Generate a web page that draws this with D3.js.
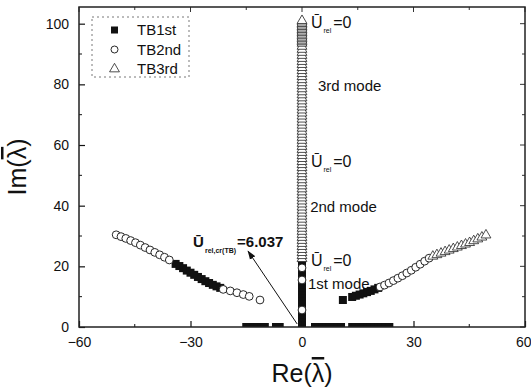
<!DOCTYPE html>
<html>
<head>
<meta charset="utf-8">
<script src="https://cdn.jsdelivr.net/npm/d3@7/dist/d3.min.js"></script>
<style>
  body { margin: 0; background: #fff; }
  svg { display: block; }
</style>
</head>
<body>
<div id="chart"></div>
<script>
// axis ticks
const xTicks = [-60, -30, 0, 30, 60];
const xMinor = [-45, -15, 15, 45];
const yTicks = [0, 20, 40, 60, 80, 100];
const yMinor = [10, 30, 50, 70, 90];

// TB1st (filled squares) [Re, Im]
const tb1st = [
  [0,0],[0,1],[0,2],[0,3],[0,4],[0,5],[0,6],[0,7],[0,8],[0,9],[0,10],[0,11],
  [0,12],[0,13],[0,14],[0,15],[0,16],[0,17],[0,18],[0,19],[0,20],[0,21],
  [-15,0],[-14,0],[-13,0],[-12,0],[-11,0],[-10,0],[-7,0],[-6,0],
  [3.5,0],[4.5,0],[5.5,0],[6.5,0],[7.5,0],[8.5,0],[9.5,0],[10.5,0],
  [13.5,0],[14.5,0],[15.5,0],[16.5,0],[17.5,0],[18.5,0],[19.5,0],[20.5,0],[21.5,0],[22.5,0],[23.5,0],
  [-34,20.8],[-33,20.1],[-32,19.4],[-31,18.6],[-30,17.9],[-29,17.2],[-28,16.5],
  [-27,15.8],[-26,15.1],[-25,14.5],[-24,13.9],[-23,13.4],[-22,12.9],
  [11,8.9],[13.5,9.9],[14.5,10.3],[15.5,10.7],[16.5,11.1],[17.5,11.5],[18.5,11.9],[19.5,12.4],[20.5,12.9]
];

// TB2nd (open circles) [Re, Im]
const tb2nd = [
  [-50,30.4],[-48.7,29.8],[-47.4,29.2],[-46.1,28.5],[-44.8,27.8],[-43.5,27.0],
  [-42.2,26.2],[-40.9,25.4],[-39.6,24.6],[-38.3,23.8],[-37,23.0],[-35.7,22.1],
  [-21.2,12.4],[-19.3,11.9],[-17.5,11.3],[-15.8,10.7],[-14.2,10.1],[-11.3,8.9],
  [0,5.6],[0,15.5],[0,19.5],
  [21,13.2],[22.2,13.8],[23.4,14.5],[24.6,15.3],[25.8,16.1],[27,16.9],
  [28.2,17.8],[29.4,18.7],[30.6,19.7],[31.8,20.7],[33,21.7],[34.2,22.7]
];

// TB3rd (open triangles) [Re, Im]
const tb3rd = [
  [35.2,23.3],[36.3,23.8],[37.4,24.3],[38.5,24.8],[39.6,25.3],[40.7,25.8],[41.8,26.3],
  [42.9,26.8],[44,27.3],[45.1,27.8],[46.2,28.4],[47.3,29.0],[48.4,29.6],[49.5,30.3],
  [0,22.5],[0,23.5],[0,24.5],[0,25.5],[0,26.5],[0,27.5],[0,28.5],[0,29.5],[0,30.5],
  [0,31.5],[0,32.5],[0,33.5],[0,34.5],[0,35.5],[0,36.5],[0,37.5],[0,38.5],[0,39.5],
  [0,40.5],[0,41.5],[0,42.5],[0,43.5],[0,44.5],[0,45.5],[0,46.5],[0,47.5],[0,48.5],
  [0,49.5],[0,50.5],[0,51.5],[0,52.5],[0,53.5],[0,54.5],[0,55.5],[0,56.5],[0,57.5],
  [0,58.5],[0,59.5],[0,60.5],[0,61.5],[0,62.5],[0,63.5],[0,64.5],[0,65.5],[0,66.5],
  [0,67.5],[0,68.5],[0,69.5],[0,70.5],[0,71.5],[0,72.5],[0,73.5],[0,74.5],[0,75.5],
  [0,76.5],[0,77.5],[0,78.5],[0,79.5],[0,80.5],[0,81.5],[0,82.5],[0,83.5],[0,84.5],
  [0,85.5],[0,86.5],[0,87.5],[0,88.5],[0,89.5],[0,90.5],[0,91.5],[0,92.5],[0,93.5],
  [0,94],[0,94.5],[0,95],[0,95.5],[0,96],[0,96.5],[0,97],[0,97.5],[0,98],[0,98.5],
  [0,99],[0,99.5],[0,100],[0,100.5],[0,101]
];

const width = 531, height = 388;
const margin = {top: 7, right: 6, bottom: 61, left: 79};
const font = "'Liberation Sans', Arial, sans-serif";

const x = d3.scaleLinear().domain([-60, 60]).range([margin.left, width - margin.right]);
const y = d3.scaleLinear().domain([0, 105.5]).range([height - margin.bottom, margin.top]);

const svg = d3.select("#chart").append("svg")
    .attr("width", width)
    .attr("height", height)
    .attr("font-family", font);

const defs = svg.append("defs");
defs.append("clipPath").attr("id", "clip")
  .append("rect")
    .attr("x", margin.left).attr("y", margin.top)
    .attr("width", width - margin.left - margin.right)
    .attr("height", height - margin.top - margin.bottom);

defs.append("marker")
    .attr("id", "arrow")
    .attr("viewBox", "0 0 10 10")
    .attr("refX", 9).attr("refY", 5)
    .attr("markerWidth", 9).attr("markerHeight", 9)
    .attr("orient", "auto")
  .append("path")
    .attr("d", "M0,1.5L10,5L0,8.5Z")
    .attr("fill", "#111");

// points
const plot = svg.append("g").attr("clip-path", "url(#clip)");

plot.append("g")
  .selectAll("rect")
  .data(tb1st)
  .join("rect")
    .attr("x", d => x(d[0]) - 4)
    .attr("y", d => y(d[1]) - 4)
    .attr("width", 8)
    .attr("height", 8)
    .attr("fill", "#111");

plot.append("g")
  .selectAll("circle")
  .data(tb2nd)
  .join("circle")
    .attr("cx", d => x(d[0]))
    .attr("cy", d => y(d[1]))
    .attr("r", 3.9)
    .attr("fill", "#fff")
    .attr("stroke", "#111")
    .attr("stroke-width", 0.9);

const tri = d3.symbol().type(d3.symbolTriangle).size(42);
plot.append("g")
  .selectAll("path")
  .data(tb3rd)
  .join("path")
    .attr("transform", d => `translate(${x(d[0])},${y(d[1])})`)
    .attr("d", tri)
    .attr("fill", "#fff")
    .attr("stroke", "#222")
    .attr("stroke-width", 0.8);

// axes (ticks inside)
const xAxisB = d3.axisBottom(x).tickValues(xTicks).tickSizeInner(-6).tickSizeOuter(0).tickPadding(10);
const yAxisL = d3.axisLeft(y).tickValues(yTicks).tickSizeInner(-6).tickSizeOuter(0).tickPadding(10);

const gx = svg.append("g")
    .attr("transform", `translate(0,${height - margin.bottom})`)
    .call(xAxisB);
const gy = svg.append("g")
    .attr("transform", `translate(${margin.left},0)`)
    .call(yAxisL);

[gx, gy].forEach(g => {
  g.select(".domain").remove();
  g.selectAll(".tick line").attr("stroke", "#111").attr("stroke-width", 1.2);
  g.selectAll(".tick text").attr("font-size", 14).attr("fill", "#111").attr("font-family", font);
});
// last x label sits at the window edge
gx.selectAll(".tick text").filter(d => d === 60).attr("text-anchor", "end").attr("dx", 6);

svg.append("g")
  .selectAll("line")
  .data(xMinor)
  .join("line")
    .attr("x1", d => x(d)).attr("x2", d => x(d))
    .attr("y1", y(0)).attr("y2", y(0) - 3)
    .attr("stroke", "#111");

svg.append("g")
  .selectAll("line")
  .data(yMinor)
  .join("line")
    .attr("x1", x(-60)).attr("x2", x(-60) + 3)
    .attr("y1", d => y(d)).attr("y2", d => y(d))
    .attr("stroke", "#111");

// mirrored ticks on top and right
svg.append("g")
  .selectAll("line")
  .data(xTicks.concat(xMinor))
  .join("line")
    .attr("x1", d => x(d)).attr("x2", d => x(d))
    .attr("y1", margin.top).attr("y2", d => margin.top + (xTicks.includes(d) ? 5 : 3))
    .attr("stroke", "#333");

svg.append("g")
  .selectAll("line")
  .data(yTicks.concat(yMinor))
  .join("line")
    .attr("x1", width - margin.right).attr("x2", d => width - margin.right - (yTicks.includes(d) ? 5 : 3))
    .attr("y1", d => y(d)).attr("y2", d => y(d))
    .attr("stroke", "#333");

// frame
svg.append("rect")
    .attr("x", margin.left).attr("y", margin.top)
    .attr("width", width - margin.left - margin.right)
    .attr("height", height - margin.top - margin.bottom)
    .attr("fill", "none")
    .attr("stroke", "#222")
    .attr("stroke-width", 1.5);

// axis titles, lambda with an overbar
function lambdaTitle(t, prefix) {
  t.append("tspan").text(prefix + "(");
  t.append("tspan").style("text-decoration", "overline").text("\u03BB");
  t.append("tspan").text(")");
}

lambdaTitle(svg.append("text")
    .attr("x", x(0))
    .attr("y", height - 6)
    .attr("text-anchor", "middle")
    .attr("font-size", 25)
    .attr("fill", "#111"), "Re");

lambdaTitle(svg.append("text")
    .attr("transform", `translate(26,${(margin.top + height - margin.bottom) / 2}) rotate(-90)`)
    .attr("text-anchor", "middle")
    .attr("font-size", 25)
    .attr("fill", "#111"), "Im");

// annotations
function uLabel(re, im) {
  const t = svg.append("text")
      .attr("x", x(re)).attr("y", y(im))
      .attr("fill", "#111")
      .attr("font-size", 16);
  t.append("tspan").text("\u016A");
  t.append("tspan").attr("font-size", 7).attr("dy", 5).attr("dx", 1).text("rel");
  t.append("tspan").attr("dy", -5).attr("dx", 2).text("=0");
}
uLabel(2.4, 98.6);
uLabel(2.4, 52.8);
uLabel(2.4, 20.2);

[["3rd mode", 4.3, 77.8], ["2nd mode", 2.2, 37.9], ["1st mode", 1.6, 12.6]].forEach(m => {
  svg.append("text")
      .attr("x", x(m[1])).attr("y", y(m[2]))
      .attr("font-size", 15)
      .attr("fill", "#111")
      .text(m[0]);
});

const cr = svg.append("text")
    .attr("x", x(-29.3)).attr("y", y(26.4))
    .attr("fill", "#111")
    .attr("font-weight", "bold")
    .attr("font-size", 15);
cr.append("tspan").text("\u016A");
cr.append("tspan").attr("font-size", 7).attr("dy", 6).attr("dx", 1).text("rel,cr(TB)");
cr.append("tspan").attr("dy", -6).attr("dx", 1).text("=6.037");

svg.append("line")
    .attr("x1", x(-1.3)).attr("y1", y(1.0))
    .attr("x2", x(-14.5)).attr("y2", y(25))
    .attr("stroke", "#111")
    .attr("stroke-width", 1)
    .attr("marker-end", "url(#arrow)");

// legend
const legend = svg.append("g");
legend.append("rect")
    .attr("x", 92).attr("y", 17)
    .attr("width", 97).attr("height", 60)
    .attr("fill", "none")
    .attr("stroke", "#555")
    .attr("stroke-width", 0.8)
    .attr("stroke-dasharray", "2,3");

const items = ["TB1st", "TB2nd", "TB3rd"];
items.forEach((name, i) => {
  const cy = 30 + i * 19.5;
  if (i === 0) {
    legend.append("rect").attr("x", 111).attr("y", cy - 3.5).attr("width", 7).attr("height", 7).attr("fill", "#111");
  } else if (i === 1) {
    legend.append("circle").attr("cx", 114.5).attr("cy", cy).attr("r", 3.5)
        .attr("fill", "#fff").attr("stroke", "#111").attr("stroke-width", 0.9);
  } else {
    legend.append("path").attr("transform", `translate(114.5,${cy})`).attr("d", tri)
        .attr("fill", "#fff").attr("stroke", "#222").attr("stroke-width", 0.8);
  }
  legend.append("text")
      .attr("x", 137).attr("y", cy + 5)
      .attr("font-size", 15)
      .attr("fill", "#111")
      .text(name);
});
</script>
</body>
</html>
